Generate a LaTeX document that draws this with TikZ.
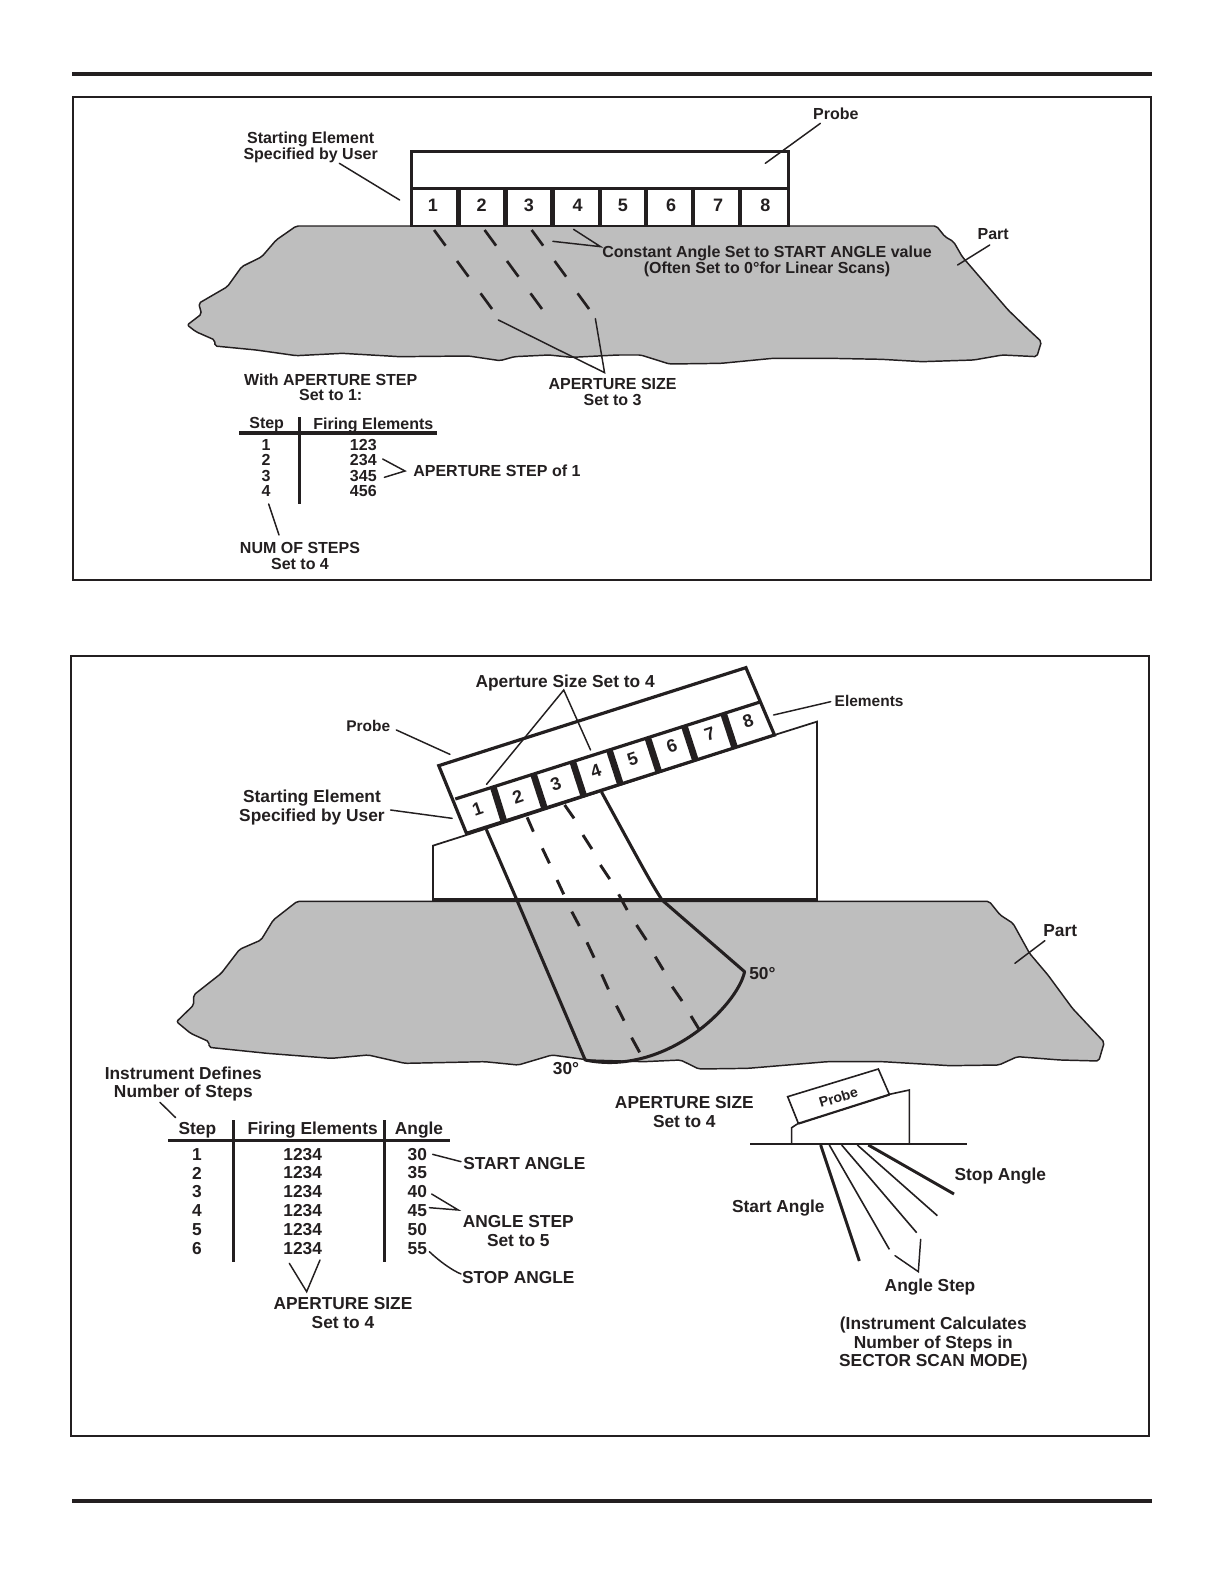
\documentclass[tikz,border=0pt]{standalone}
\usepackage{fontspec}
\setmainfont{Liberation Sans}
\definecolor{ink}{HTML}{231F20}
\definecolor{partgray}{HTML}{BEBEBE}
\newcommand\conn[3]{\coordinate (#1a) at #2; \coordinate (#1b) at #3; \draw[leader] (#1a) -- (#1b);}
\newcommand\veeconn[4]{\coordinate (#1a) at #2; \coordinate (#1m) at #3; \coordinate (#1b) at #4; \draw[leader,line join=miter] (#1a) -- (#1m) -- (#1b);}
\tikzset{
  zoomA/.style={shift={(170,90)},x=0.43054pt,y=-0.25pt},
  zoomB/.style={shift={(200,360)},x=0.25pt,y=-0.25pt},
  zoomC/.style={shift={(220,655)},x=0.33482pt,y=-0.25pt},
  zoomD/.style={shift={(90,1050)},x=0.25pt,y=-0.25pt},
  zoomE/.style={shift={(600,1060)},x=0.25pt,y=-0.25pt},
  zoomF/.style={shift={(160,880)},x=0.45928pt,y=-0.25pt},
  every node/.style={text=ink,inner sep=0pt,outer sep=0pt,align=center},
  small/.style={font=\fontsize{12}{11.8}\selectfont\bfseries},
  big/.style={font=\fontsize{13}{14.1}\selectfont\bfseries},
  lab/.style={font=\fontsize{11.6}{12}\selectfont\bfseries},
  digit/.style={font=\fontsize{13.5}{14}\selectfont\bfseries},
  leader/.style={draw=ink,line width=1.1pt,line cap=round},
  frame/.style={draw=ink,line width=1.5pt},
  rulebar/.style={draw=ink,line width=3pt},
  outlineT/.style={draw=ink,line width=2.2pt,line join=miter},
  partshape/.style={draw=ink,fill=partgray,line width=1.1pt,line join=round,rounded corners=1.5pt},
  dashseg/.style={draw=ink,line width=2pt,line cap=butt},
  tablebar/.style={draw=ink,line width=2.4pt},
}
\begin{document}
\begin{tikzpicture}[x=0.75pt,y=-0.75pt]
\useasboundingbox (0,0) rectangle (1224,1584);
\fill[white] (0,0) rectangle (1224,1584);
\draw[rulebar] (72,74) -- (1152,74);
\draw[rulebar] (72,1501) -- (1152,1501);
\draw[frame] (73,97) rectangle (1151,580);
\draw[frame] (71,656) rectangle (1149,1436);

%% ---------- top diagram ----------
\begin{scope}[zoomA]
\draw[partshape] (220,408) -- (1335,408) -- (1350,440) -- (1365,455) -- (1380,500) -- (1400,540) -- (1430,600) -- (1460,660) -- (1490,710) -- (1518,755) -- (1510,800) -- (1450,795) -- (1400,810) -- (1310,815) -- (1240,808) -- (1150,805) -- (1050,805) -- (960,820) -- (870,822) -- (820,795) -- (780,795) -- (700,802) -- (660,795) -- (600,800) -- (575,812) -- (520,798) -- (400,800) -- (300,790) -- (220,797) -- (150,780) -- (78,768) -- (78,750) -- (45,725) -- (30,705) -- (55,672) -- (50,640) -- (100,590) -- (125,530) -- (160,500) -- (185,450) -- cycle;
\draw[outlineT,fill=white] (420,185) rectangle (1077,408);
\draw[outlineT] (420,296) -- (1077,296);
\foreach \xa/\xb in {498/507,580/588,662/670,745/752,825/833,907/915,990/997}
  \fill[ink] (\xa,296) rectangle (\xb,408);
\foreach \n/\px in {1/458,2/543,3/625,4/710,5/789,6/873,7/955,8/1037}
  \node[digit] (ta\n) at (\px,345) {\n};
\foreach \xa/\ya in {460/420,548/420,630/420,500/513,587/513,670/513,541/610,628/610,710/610}
  \draw[dashseg] (\xa,\ya) -- ++(20,47);
\node[small] (tStart) at (245,173) {Starting Element\\Specified by User};
\node[small] (tProbe) at (1160,72) {Probe};
\node[small] (tPart) at (1434,432) {Part};
\node[small] (tConst) at (1040,513) {Constant Angle Set to START ANGLE value\\(Often Set to 0°for Linear Scans)};
\node[small] (tApSize) at (771,907) {APERTURE SIZE\\Set to 3};
\node[small] (tWith) at (280,892) {With APERTURE STEP\\Set to 1:};
\conn{la}{(295,220)}{(400,330)}
\conn{lb}{(1133,100)}{(1037,220)}
\conn{lc}{(1428,465)}{(1372,525)}
\veeconn{ld}{(703,418)}{(750,470)}{(667,454)}
\veeconn{le}{(572,690)}{(757,848)}{(741,686)}
\end{scope}

\begin{scope}[zoomB]
\draw[tablebar] (118,219) -- (712,219);
\draw[tablebar] (299,172) -- (299,432);
\node[small] (tbStep) at (200,195) {Step};
\node[small] (tbFire) at (520,195) {Firing Elements};
\foreach \n/\v/\py in {1/123/255,2/234/301,3/345/347,4/456/394} {
  \node[small] (tbs\n) at (198,\py) {\n};
  \node[small] (tbf\n) at (490,\py) {\v};
}
\node[small,anchor=west] (tbStepOf) at (640,333) {APERTURE STEP of 1};
\node[small] (tbNum) at (300,589) {NUM OF STEPS\\Set to 4};
\veeconn{lf}{(548,297)}{(615,333)}{(553,352)}
\conn{lg}{(206,432)}{(237,525)}
\end{scope}

%% ---------- bottom diagram ----------
\begin{scope}[zoomF]
\draw[partshape] (224,64) -- (1354,64) -- (1372,105) -- (1393,130) -- (1420,220) -- (1450,285) -- (1490,385) -- (1542,487) -- (1533,543) -- (1470,540) -- (1400,530) -- (1370,555) -- (1290,557) -- (1180,545) -- (1090,545) -- (960,565) -- (880,567) -- (850,540) -- (790,545) -- (700,540) -- (640,525) -- (585,555) -- (530,545) -- (400,550) -- (340,525) -- (280,535) -- (175,520) -- (80,502) -- (80,485) -- (50,460) -- (27,425) -- (55,375) -- (55,345) -- (100,280) -- (130,208) -- (165,180) -- (185,120) -- cycle;
\node[big] (bPart) at (1470,152) {Part};
\conn{lh}{(1445,182)}{(1396,250)}
\end{scope}

\begin{scope}[zoomC]
\draw[draw=ink,fill=white,line width=1.3pt,line join=miter] (477,735) -- (477,572) -- (552,540) -- (1242,240) -- (1337,200) -- (1337,735) -- cycle;
\draw[ink,line width=2.4pt] (477,735) -- (1337,735);
\draw[outlineT,line width=2.4pt,fill=white] (490,332) -- (1178,38) -- (1242,240) -- (552,535) -- cycle;
\draw[outlineT,line width=2.4pt] (527,432) -- (1212,140);
\foreach \xa/\ya/\xb/\yb in {612/396/636/499,702/357/727/460,790/320/815/423,872/285/897/388,958/248/983/351,1040/213/1065/316,1128/176/1153/278}
  \draw[ink,line width=5pt] (\xa,\ya) -- (\xb,\yb);
\foreach \n/\px/\py in {1/577/463,2/667/425,3/752/388,4/842/349,5/924/313,6/1012/273,7/1097/238,8/1183/199}
  \node[digit,rotate=19] (ba\n) at (\px,\py) {\n};
\draw[draw=ink,line width=2.3pt,line join=round,line cap=round] (597,525) -- (665,735) -- (818,1215) .. controls (1000,1265) and (1160,1050) .. (1175,950) -- (990,735) .. controls (960,670) .. (855,412);
\foreach \xa/\ya/\xb/\yb in {688/487/702/530,722/580/738/625,755/675/770/718,788/770/805/813,822/862/838/908,855/958/870/1003,888/1052/905/1097,922/1148/940/1192,
  772/450/793/490,813/540/833/582,852/630/873/672,893/718/912/765,933/810/955/855,975/905/993/945,1013/995/1035/1038,1055/1083/1075/1127}
  \draw[dashseg,line width=2.2pt] (\xa,\ya) -- (\xb,\yb);
\node[big] (bApSet) at (773,85) {Aperture Size Set to 4};
\node[lab] (bProbe) at (332,213) {Probe};
\node[big] (bStart) at (206,457) {Starting Element\\Specified by User};
\node[lab] (bElem) at (1454,138) {Elements};
\node[big] (b50) at (1215,956) {50°};
\node[big] (b30) at (775,1240) {30°};
\veeconn{li}{(597,388)}{(770,105)}{(830,285)}
\conn{lj}{(395,225)}{(515,298)}
\conn{lk}{(382,465)}{(520,490)}
\conn{ll}{(1240,180)}{(1368,140)}
\end{scope}

\begin{scope}[zoomD]
\draw[tablebar] (235,271) -- (1080,271);
\draw[tablebar] (430,210) -- (430,635);
\draw[tablebar] (884,210) -- (884,635);
\node[big] (cStep) at (322,240) {Step};
\node[big] (cFire) at (668,240) {Firing Elements};
\node[big] (cAngle) at (987,240) {Angle};
\foreach \n/\a/\py in {1/30/313,2/35/369,3/40/426,4/45/482,5/50/538,6/55/595} {
  \node[big] (cs\n) at (321,\py) {\n};
  \node[big] (cf\n) at (638,\py) {1234};
  \node[big] (ca\n) at (982,\py) {\a};
}
\node[big] (cInstr) at (280,102) {Instrument Defines\\Number of Steps};
\node[big] (cStartA) at (1303,340) {START ANGLE};
\node[big] (cAngStep) at (1285,542) {ANGLE STEP\\Set to 5};
\node[big] (cStopA) at (1285,683) {STOP ANGLE};
\node[big] (cApSize) at (759,788) {APERTURE SIZE\\Set to 4};
\conn{lm}{(210,157)}{(257,203)}
\conn{ln}{(1028,313)}{(1113,335)}
\veeconn{lo}{(1025,432)}{(1105,480)}{(1018,473)}
\coordinate (lpa) at (1018,605); \coordinate (lpb) at (1113,672);
\draw[leader] (lpa) .. controls (1050,635) and (1085,660) .. (lpb);
\veeconn{lq}{(598,640)}{(650,725)}{(690,630)}
\end{scope}

\begin{scope}[zoomE]
\draw[draw=ink,fill=white,line width=1.2pt] (575,252) -- (575,203) -- (595,190) -- (868,103) -- (928,90) -- (928,252);
\draw[ink,line width=2pt] (595,190) -- (868,103);
\draw[draw=ink,fill=white,line width=1.2pt] (563,110) -- (835,27) -- (868,103) -- (595,190) -- cycle;
\draw[ink,line width=1.2pt] (450,252) -- (1100,252);
\draw[ink,line width=2.2pt] (662,255) -- (778,603);
\draw[ink,line width=1.2pt] (688,255) -- (868,568);
\draw[ink,line width=1.2pt] (725,255) -- (950,518);
\draw[ink,line width=1.2pt] (772,255) -- (1012,467);
\draw[ink,line width=2.2pt] (805,255) -- (1062,402);
\node[big] (dApSize) at (253,157) {APERTURE SIZE\\Set to 4};
\node[font=\fontsize{10.5}{12}\selectfont\bfseries,rotate=17] (dProbe) at (715,112) {Probe};
\node[big] (dStop) at (1201,349) {Stop Angle};
\node[big] (dStart) at (535,445) {Start Angle};
\node[big] (dStep) at (990,680) {Angle Step};
\node[big] (dCalc) at (1000,851) {(Instrument Calculates\\Number of Steps in\\SECTOR SCAN MODE)};
\veeconn{lr}{(885,587)}{(955,635)}{(962,538)}
\end{scope}
\end{tikzpicture}
\end{document}
